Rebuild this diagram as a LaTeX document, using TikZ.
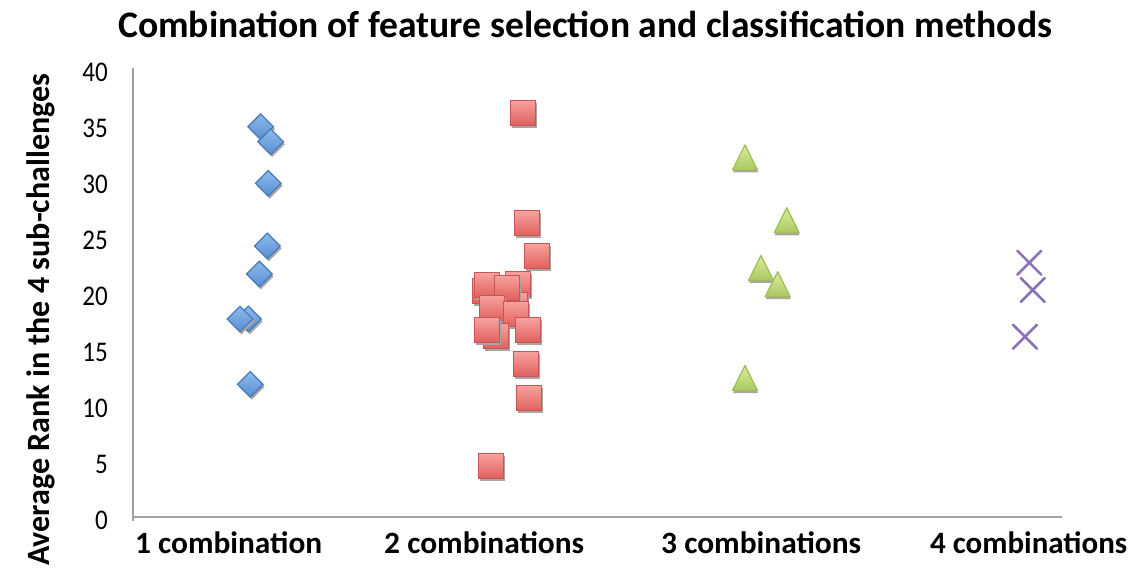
\documentclass[tikz,border=0pt]{standalone}
\usepackage{fontspec}
\setmainfont{Carlito}
\usepackage{graphicx}

\definecolor{axisgray}{RGB}{160,160,160}
\definecolor{shadowgray}{RGB}{172,164,164}
\definecolor{blueedge}{RGB}{74,126,187}
\definecolor{bluetop}{RGB}{143,185,236}
\definecolor{bluebot}{RGB}{88,142,212}
\definecolor{rededge}{RGB}{200,86,83}
\definecolor{redtop}{RGB}{247,162,158}
\definecolor{redbot}{RGB}{224,96,93}
\definecolor{greenedge}{RGB}{158,190,92}
\definecolor{greentop}{RGB}{218,236,156}
\definecolor{greenbot}{RGB}{168,202,94}
\definecolor{purplemark}{RGB}{140,115,185}

% horizontal-only fit of a text to a given width
\newcommand\fitw[2]{\resizebox{#1}{\height}{#2}}
\newcommand\catfont{\bfseries\fontsize{31bp}{33bp}\selectfont}
\newcommand\tickfont{\fontsize{28.5bp}{30bp}\selectfont}

\tikzset{
  axisline/.style={draw=axisgray, line width=1.3bp},
  ticklabel/.style={anchor=east, inner sep=0pt, font=\tickfont},
  catlabel/.style={anchor=base west, inner sep=0pt},
  pics/diam/.style={code={
    \fill[shadowgray, shift={(1.5,2.5)}] (0,-12.8) -- (12.8,0) -- (0,12.8) -- (-12.8,0) -- cycle;
    \draw[line width=1.3bp, draw=blueedge, top color=bluetop, bottom color=bluebot]
      (0,-12.8) -- (12.8,0) -- (0,12.8) -- (-12.8,0) -- cycle;
  }},
  pics/sqr/.style={code={
    \fill[shadowgray, shift={(1.5,2.5)}] (-12.5,-12.5) rectangle (12.5,12.5);
    \draw[line width=1.3bp, draw=rededge, top color=redtop, bottom color=redbot]
      (-12.5,-12.5) rectangle (12.5,12.5);
  }},
  pics/tri/.style={code={
    \fill[shadowgray, shift={(0.5,2.5)}] (0,-12.5) -- (12.5,12.5) -- (-12.5,12.5) -- cycle;
    \draw[line width=1.3bp, draw=greenedge, top color=greentop, bottom color=greenbot, line join=round]
      (0,-12.5) -- (12.5,12.5) -- (-12.5,12.5) -- cycle;
  }},
  pics/xmark/.style={code={
    \draw[line width=2.6bp, draw=purplemark, line cap=round]
      (-12,-12) -- (12,12) (-12,12) -- (12,-12);
  }}
}

\begin{document}
\begin{tikzpicture}[x=1bp, y=-1bp]
\useasboundingbox (0,0) rectangle (1136,569);

% title
\node[anchor=base west, inner sep=0pt] (title) at (118,38)
  {\fitw{934bp}{\bfseries\fontsize{37.5bp}{40bp}\selectfont Combination of feature selection and classification methods}};

% vertical axis title
\node[anchor=base west, rotate=90, inner sep=0pt] (ylabel) at (49,566)
  {\fitw{492bp}{\bfseries\fontsize{32.5bp}{34bp}\selectfont Average Rank in the 4 sub-challenges}};

% axes
\coordinate (ytop) at (133,68);
\coordinate (ybot) at (133,521);
\coordinate (orig) at (133,517);
\coordinate (xend) at (1062,517);
\draw[axisline] (ytop) -- (ybot);
\draw[axisline] (orig) -- (xend);

% tick labels
\foreach \v in {0,5,...,40}
  \node[ticklabel] (tick\v) at (108,{520-11.2*\v}) {\scalebox{0.88}[1]{\v}};

% category labels
\node[catlabel] (cat1) at (135,553) {\fitw{187bp}{\catfont 1 combination}};
\node[catlabel] (cat2) at (384,553) {\fitw{200bp}{\catfont 2 combinations}};
\node[catlabel] (cat3) at (661,553) {\fitw{200bp}{\catfont 3 combinations}};
\node[catlabel] (cat4) at (930,553) {\fitw{197bp}{\catfont 4 combinations}};

% 1 combination
\foreach \px/\py in {260.7/126.7, 270.7/141.7, 268.3/183.3, 267.3/246, 259.3/274,
                     248.3/319, 240/319, 250.3/384.3}
  \pic at (\px,\py) {diam};

% 2 combinations
\foreach \px/\py in {523.3/112.7, 526.7/223.3, 537.3/256, 485/291, 487.3/285,
                     518.3/284.3, 515/305, 507/287.7, 492/308, 516.3/314,
                     495.7/336.3, 487/330.3, 528.3/330.3, 525.7/364,
                     529.3/398.3, 491/466}
  \pic at (\px,\py) {sqr};

% 3 combinations
\foreach \px/\py in {745/157.5, 786.7/220.3, 761/268, 777.7/284.2, 745/378}
  \pic at (\px,\py) {tri};

% 4 combinations
\foreach \px/\py in {1029.3/262.7, 1032.7/290, 1025/336.7}
  \pic at (\px,\py) {xmark};
\end{tikzpicture}
\end{document}
